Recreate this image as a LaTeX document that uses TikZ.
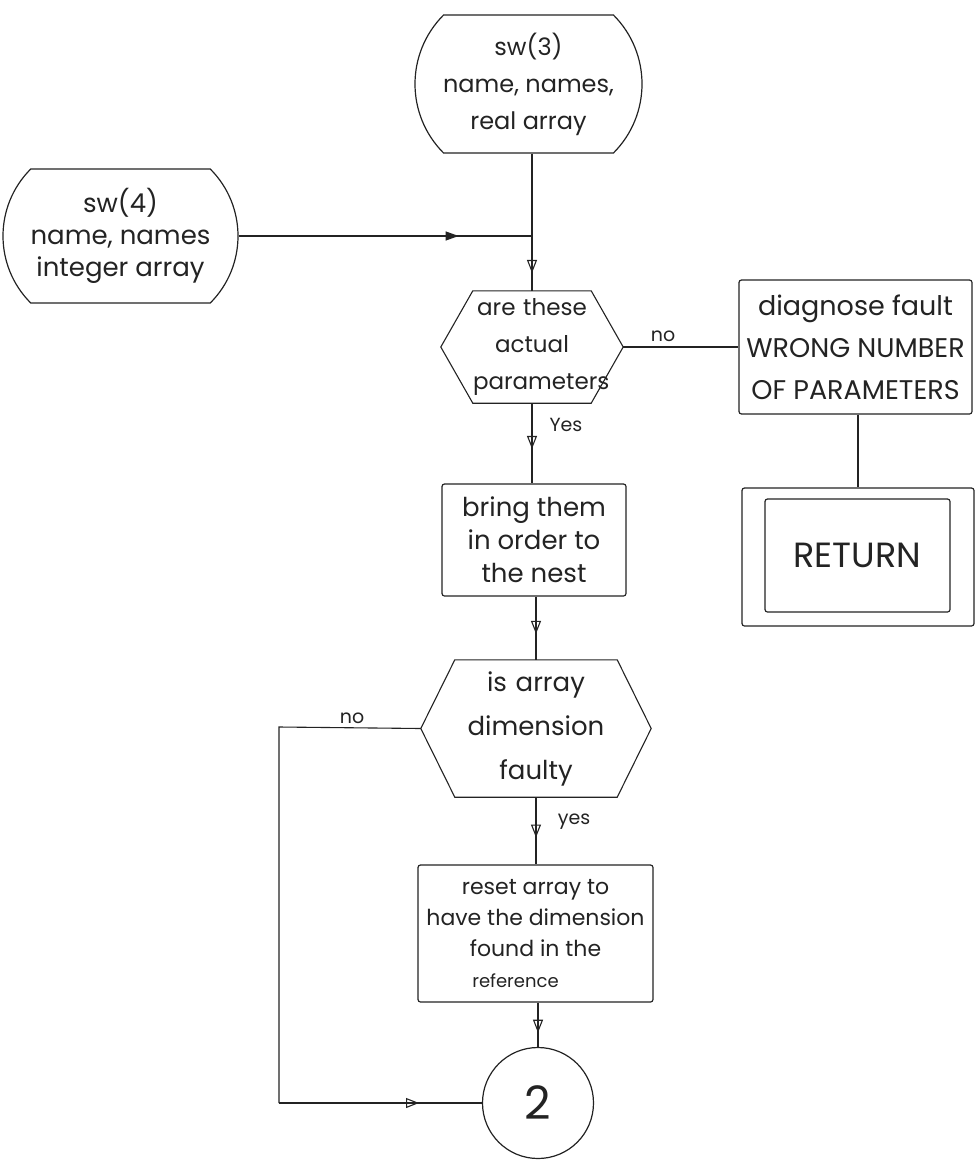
\documentclass[tikz,border=0pt]{standalone}
\usepackage{fontspec}
\setmainfont{Poppins}
\usetikzlibrary{arrows.meta,shapes.misc,decorations.markings,calc}

\definecolor{ink}{RGB}{35,35,35}

\tikzset{
  flow/.style={draw=ink, line width=1.1pt},
  terminal/.style={rounded rectangle, rounded rectangle arc length=90, draw=ink,
    line width=1.2pt, align=center, inner sep=0pt, text=ink},
  procbox/.style={rectangle, rounded corners=2.5pt, draw=ink, line width=1.2pt,
    align=center, inner sep=0pt, text=ink},
  hexbody/.style={rectangle, align=center, inner sep=0pt, text=ink},
  joinring/.style={circle, draw=ink, line width=1.2pt, inner sep=0pt, text=ink},
  tipopen/.style={postaction={decorate}, decoration={markings,
    mark=at position #1 with {\arrow{Triangle[open, length=13pt, width=10pt]}}}},
  tipfull/.style={postaction={decorate}, decoration={markings,
    mark=at position #1 with {\arrow{Triangle[length=13pt, width=9pt]}}}},
  lbl/.style={text=ink, inner sep=0pt, font=\fontsize{19}{20}\selectfont},
}

\begin{document}
\begin{tikzpicture}[x=1pt, y=-1pt]
\useasboundingbox (0,0) rectangle (976,1162);

% entry terminals
\node[terminal, minimum width=227pt, minimum height=138pt,
      font=\fontsize{24}{37}\selectfont] (sw3) at (528.5,84)
  {sw(3)\\ name, names,\\ real array};
\node[terminal, minimum width=235pt, minimum height=134pt,
      font=\fontsize{26}{32}\selectfont] (sw4) at (120.5,236)
  {sw(4)\\ name, names\\ integer array};

% first decision
\node[hexbody, text width=118pt, minimum height=112pt,
      font=\fontsize{23}{37}\selectfont] (h1) at (532,347)
  {are these\\ actual\\ parameters};
\coordinate (h1l) at ($(h1.west)+(-32,0)$);
\coordinate (h1r) at ($(h1.east)+(32,0)$);
\draw[flow] (h1.north west) -- (h1.north east) -- (h1r) -- (h1.south east)
  -- (h1.south west) -- (h1l) -- cycle;

% fault branch
\node[procbox, minimum width=233pt, minimum height=134pt,
      font=\fontsize{27}{42}\selectfont] (diag) at (855.5,347)
  {diagnose fault\\ WRONG NUMBER\\ OF PARAMETERS};
\node[procbox, minimum width=232pt, minimum height=138pt] (ret) at (858,557) {};
\node[procbox, minimum width=185pt, minimum height=113pt,
      font=\fontsize{35}{36}\selectfont] (retin) at (857.5,555.5) {RETURN};

% main column
\node[procbox, minimum width=184pt, minimum height=112pt,
      font=\fontsize{26}{33}\selectfont] (bring) at (534,540)
  {bring them\\ in order to\\ the nest};

\node[hexbody, text width=162pt, minimum height=137pt,
      font=\fontsize{26}{44}\selectfont] (h2) at (536,728.5)
  {is array\\ dimension\\ faulty};
\coordinate (h2l) at ($(h2.west)+(-34,0)$);
\coordinate (h2r) at ($(h2.east)+(34,0)$);
\draw[flow] (h2.north west) -- (h2.north east) -- (h2r) -- (h2.south east)
  -- (h2.south west) -- (h2l) -- cycle;

\node[procbox, minimum width=235pt, minimum height=137pt,
      font=\fontsize{22}{31}\selectfont] (reset) at (535.5,933.5)
  {reset array to\\ have the dimension\\ found in the\\
   \hspace*{-40pt}{\fontsize{18}{20}\selectfont reference}};

\node[joinring, minimum size=111pt, font=\fontsize{46}{46}\selectfont]
  (two) at (538,1103) {2};

% connectors
\coordinate (j1) at (h1.north |- sw4.east);
\draw[flow, tipopen=0.87] (h1.north |- sw3.south) -- (h1.north);
\draw[flow, tipfull=0.75] (sw4.east) -- (j1);

\draw[flow, tipopen=0.57] (h1.south) -- (h1.south |- bring.north);
\node[lbl] (yes1) at (566,425) {Yes};

\draw[flow] (h1r) -- (diag.west);
\node[lbl] (no1) at (663,336) {no};

\draw[flow] (ret.north |- diag.south) -- (ret.north);

\draw[flow, tipopen=0.59] (h2.north |- bring.south) -- (h2.north);

\draw[flow, tipopen=0.6] (h2.south) -- (h2.south |- reset.north);
\node[lbl] (yes2) at (574,822) {yes};

\coordinate (c1) at (279,727);
\coordinate (c2) at (c1 |- two.west);
\draw[flow] (h2l) -- (c1) -- (c2);
\draw[flow, tipopen=0.69] (c2) -- (two.west);
\node[lbl] (no2) at (352,718) {no};

\draw[flow, tipopen=0.68] (two.north |- reset.south) -- (two.north);
\end{tikzpicture}
\end{document}
